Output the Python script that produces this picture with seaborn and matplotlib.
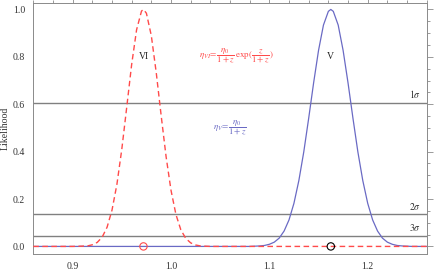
import numpy as np
import pandas as pd
import seaborn as sns
import matplotlib.pyplot as plt
from matplotlib.ticker import MultipleLocator

# likelihood curves, values
red_x = [0.86, 0.90, 0.915, 0.92, 0.925, 0.93, 0.935, 0.94, 0.945, 0.95, 0.955, 0.96,
         0.965, 0.97, 0.972, 0.975, 0.98, 0.985, 0.99, 0.995, 1.00, 1.005, 1.01,
         1.015, 1.02, 1.025, 1.03, 1.04, 1.10, 1.26]
red_y = [0.0, 0.0, 0.002, 0.007, 0.017, 0.039, 0.081, 0.153, 0.262, 0.411, 0.588, 0.768,
         0.914, 0.993, 1.0, 0.984, 0.889, 0.733, 0.552, 0.379, 0.237, 0.135, 0.070,
         0.034, 0.015, 0.006, 0.002, 0.0, 0.0, 0.0]

blue_x = [0.86, 1.00, 1.08, 1.085, 1.09, 1.095, 1.10, 1.105, 1.11, 1.115, 1.12, 1.125,
          1.13, 1.135, 1.14, 1.145, 1.15, 1.155, 1.16, 1.1625, 1.165, 1.17, 1.175,
          1.18, 1.185, 1.19, 1.195, 1.20, 1.205, 1.21, 1.215, 1.22, 1.225, 1.23,
          1.235, 1.24, 1.245, 1.26]
blue_y = [0.0, 0.0, 0.0, 0.001, 0.002, 0.004, 0.009, 0.018, 0.035, 0.065, 0.112, 0.182,
          0.278, 0.399, 0.541, 0.690, 0.827, 0.934, 0.992, 1.0, 0.992, 0.934, 0.827,
          0.690, 0.541, 0.399, 0.278, 0.182, 0.112, 0.065, 0.035, 0.018, 0.009, 0.004,
          0.002, 0.001, 0.0, 0.0]

sigma_levels = [0.607, 0.135, 0.044]
sigma_labels = [r"$1\sigma$", r"$2\sigma$", r"$3\sigma$"]

peak_x = [0.972, 1.1625]
peak_names = ["VI", "V"]

sns.set_style("white")
plt.rcParams['font.family'] = ['Liberation Serif', 'DejaVu Serif']
plt.rcParams['mathtext.fontset'] = 'stix'

red = "#ff4a4a"
blue = "#6a6ac4"
frame = "#8a8a8a"

fig = plt.figure(figsize=(4.36, 2.77), dpi=100)
ax = fig.add_axes([0.0764, 0.083, 0.9023, 0.906])

for lev, lab in zip(sigma_levels, sigma_labels):
    ax.axhline(lev, color="#808080", lw=1.0, zorder=1)
    ax.text(1.254, lev + 0.012, lab, ha="right", va="bottom", fontsize=7, color="#333333")

sns.lineplot(x=blue_x, y=blue_y, ax=ax, color=blue, lw=0.9, zorder=2)
sns.lineplot(x=red_x, y=red_y, ax=ax, color=red, lw=1.0, zorder=3, dashes=False)
ax.lines[-1].set_dashes([4, 2.5])

sns.scatterplot(x=[peak_x[0]], y=[0.0], ax=ax, s=28, fc="none", ec=red, lw=0.8, zorder=4)
sns.scatterplot(x=[peak_x[1]], y=[0.0], ax=ax, s=28, fc="none", ec="black", lw=0.8, zorder=4)

for px, name in zip(peak_x, peak_names):
    ax.text(px, 0.8, name, ha="center", va="center", fontsize=7, color="#222222")

ax.text(1.066, 0.80, r"$\eta_{VI}\!=\!\dfrac{\eta_0}{1+z}\,\mathrm{exp}(\dfrac{z}{1+z})$",
        ha="center", va="center", fontsize=6.5, color=red)
ax.text(1.060, 0.498, r"$\eta_V\!=\!\dfrac{\eta_0}{1+z}$",
        ha="center", va="center", fontsize=6.5, color=blue)

ax.set_xlim(0.86, 1.26)
ax.set_ylim(-0.032, 1.027)
ax.xaxis.set_major_locator(MultipleLocator(0.1))
ax.xaxis.set_minor_locator(MultipleLocator(0.02))
ax.yaxis.set_major_locator(MultipleLocator(0.2))
ax.yaxis.set_minor_locator(MultipleLocator(0.05))
ax.set_xticks([0.9, 1.0, 1.1, 1.2])
ax.set_xticklabels(["0.9", "1.0", "1.1", "1.2"])
ax.set_yticks([0.0, 0.2, 0.4, 0.6, 0.8, 1.0])
ax.set_yticklabels(["0.0", "0.2", "0.4", "0.6", "0.8", "1.0"])
ax.tick_params(which="both", direction="out", top=True, right=True,
               labeltop=False, labelright=False, color=frame, labelsize=7,
               labelcolor="#333333", width=0.6, pad=2)
ax.tick_params(which="major", length=4)
ax.tick_params(which="minor", length=2.5)
for s in ax.spines.values():
    s.set_color(frame)
    s.set_linewidth(0.7)

ax.set_ylabel("Likelihood", fontsize=7, color="#333333", labelpad=2)
ax.set_xlabel("")

fig.savefig("out.png", dpi=100)
